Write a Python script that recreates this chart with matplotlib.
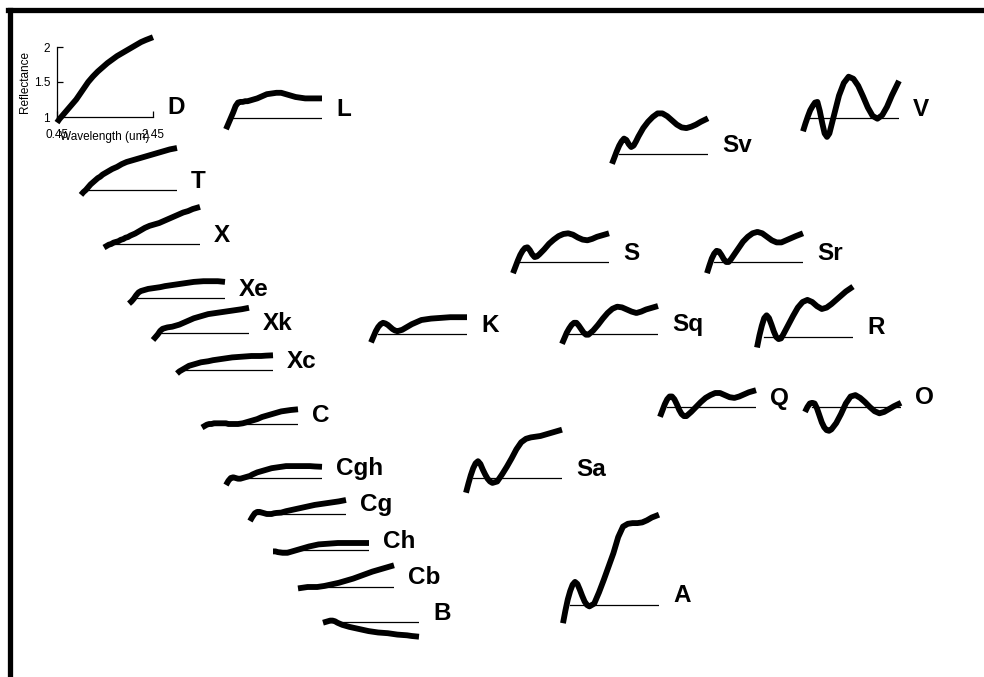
"""
Bus-DeMeo 小行星分类光谱示意图
"""
import matplotlib
matplotlib.use('Agg')
from matplotlib import pyplot as plt
from matplotlib.lines import Line2D

W, H = 984, 677
PXU = 70          # 每单位反射率对应的像素
PW = 96           # 0.45~2.45um 对应的像素宽度
YMIN, YMAX = 0.5, 2.4

WL = [0.45, 0.5, 0.55, 0.6, 0.65, 0.7, 0.75, 0.8, 0.85, 0.9, 0.95, 1.0, 1.1,
      1.2, 1.3, 1.4, 1.5, 1.6, 1.7, 1.8, 1.9, 2.0, 2.1, 2.2, 2.3, 2.45]

D = [0.92, 0.97, 1.01, 1.05, 1.09, 1.13, 1.17, 1.21, 1.25, 1.3, 1.35, 1.4, 1.5,
     1.58, 1.65, 1.71, 1.77, 1.82, 1.87, 1.91, 1.95, 1.99, 2.03, 2.07, 2.1, 2.14]
L = [0.84, 0.92, 1.0, 1.08, 1.17, 1.22, 1.23, 1.23, 1.24, 1.24, 1.25, 1.26, 1.28,
     1.31, 1.34, 1.35, 1.36, 1.36, 1.34, 1.32, 1.3, 1.29, 1.28, 1.28, 1.28, 1.28]
T = [0.93, 0.97, 1.0, 1.04, 1.08, 1.11, 1.14, 1.17, 1.19, 1.22, 1.24, 1.26, 1.3,
     1.33, 1.37, 1.4, 1.42, 1.44, 1.46, 1.48, 1.5, 1.52, 1.54, 1.56, 1.58, 1.6]
X = [0.95, 0.97, 0.99, 1.0, 1.02, 1.03, 1.04, 1.06, 1.07, 1.09, 1.1, 1.12, 1.15,
     1.19, 1.23, 1.26, 1.28, 1.3, 1.33, 1.36, 1.39, 1.42, 1.45, 1.47, 1.5, 1.53]
Xe = [0.92, 0.95, 0.99, 1.04, 1.08, 1.1, 1.11, 1.12, 1.13, 1.135, 1.14, 1.145, 1.155,
      1.17, 1.18, 1.19, 1.2, 1.21, 1.22, 1.23, 1.235, 1.24, 1.24, 1.24, 1.24, 1.23]
Xk = [0.9, 0.94, 0.98, 1.03, 1.06, 1.07, 1.08, 1.085, 1.09, 1.1, 1.11, 1.12, 1.15,
      1.18, 1.21, 1.23, 1.25, 1.27, 1.28, 1.29, 1.3, 1.31, 1.32, 1.33, 1.34, 1.36]
Xc = [0.95, 0.98, 1.0, 1.02, 1.04, 1.06, 1.07, 1.08, 1.09, 1.1, 1.11, 1.115, 1.125,
      1.14, 1.15, 1.16, 1.17, 1.18, 1.185, 1.19, 1.195, 1.2, 1.2, 1.2, 1.205, 1.21]
C = [0.95, 0.97, 0.99, 1.0, 1.0, 1.01, 1.01, 1.01, 1.01, 1.01, 1.01, 1.0, 1.0,
     1.0, 1.01, 1.03, 1.05, 1.07, 1.1, 1.12, 1.14, 1.16, 1.18, 1.19, 1.2, 1.21]
Cgh = [0.9, 0.96, 1.0, 1.01, 1.0, 0.99, 0.99, 1.0, 1.01, 1.02, 1.03, 1.05, 1.08,
       1.1, 1.12, 1.14, 1.15, 1.16, 1.17, 1.17, 1.17, 1.17, 1.17, 1.17, 1.165, 1.16]
Cg = [0.9, 0.96, 1.01, 1.03, 1.03, 1.02, 1.01, 1.0, 1.0, 1.0, 1.01, 1.015, 1.02,
      1.04, 1.055, 1.07, 1.085, 1.1, 1.115, 1.13, 1.14, 1.15, 1.16, 1.17, 1.18, 1.2]
Ch = [0.98, 0.98, 0.97, 0.965, 0.96, 0.96, 0.96, 0.97, 0.98, 0.99, 1.0, 1.01, 1.03,
      1.05, 1.065, 1.08, 1.085, 1.09, 1.095, 1.1, 1.1, 1.1, 1.1, 1.1, 1.1, 1.1]
Cb = [0.98, 0.985, 0.99, 0.995, 1.0, 1.0, 1.0, 1.0, 1.0, 1.005, 1.01, 1.015, 1.03,
      1.045, 1.06, 1.08, 1.1, 1.12, 1.145, 1.17, 1.195, 1.22, 1.24, 1.26, 1.28, 1.31]
B = [0.99, 1.0, 1.01, 1.02, 1.02, 1.01, 0.99, 0.975, 0.96, 0.95, 0.94, 0.93, 0.915,
     0.9, 0.885, 0.87, 0.86, 0.85, 0.845, 0.84, 0.83, 0.82, 0.815, 0.81, 0.8, 0.79]
K = [0.88, 0.96, 1.04, 1.1, 1.14, 1.16, 1.15, 1.13, 1.1, 1.07, 1.05, 1.04, 1.06,
     1.1, 1.14, 1.17, 1.2, 1.21, 1.22, 1.225, 1.23, 1.235, 1.24, 1.24, 1.24, 1.24]
S = [0.84, 0.93, 1.02, 1.1, 1.16, 1.2, 1.21, 1.17, 1.11, 1.07, 1.08, 1.11, 1.18,
     1.26, 1.32, 1.37, 1.4, 1.41, 1.39, 1.35, 1.32, 1.31, 1.33, 1.36, 1.38, 1.41]
Sa = [0.79, 0.92, 1.04, 1.14, 1.21, 1.24, 1.2, 1.12, 1.05, 0.99, 0.95, 0.93, 0.95,
      1.05, 1.16, 1.28, 1.41, 1.51, 1.56, 1.58, 1.59, 1.6, 1.62, 1.64, 1.66, 1.69]
Sq = [0.86, 0.94, 1.02, 1.08, 1.13, 1.16, 1.16, 1.12, 1.07, 1.02, 0.99, 0.99, 1.05,
      1.13, 1.22, 1.3, 1.36, 1.39, 1.38, 1.35, 1.32, 1.3, 1.32, 1.35, 1.37, 1.4]
Sr = [0.84, 0.95, 1.05, 1.12, 1.16, 1.15, 1.1, 1.04, 1.0, 1.0, 1.04, 1.09, 1.19,
      1.29, 1.36, 1.41, 1.43, 1.41, 1.36, 1.31, 1.28, 1.28, 1.31, 1.34, 1.37, 1.41]
Sv = [0.86, 0.95, 1.04, 1.12, 1.18, 1.22, 1.2, 1.14, 1.1, 1.12, 1.18, 1.25, 1.37,
      1.46, 1.53, 1.58, 1.58, 1.54, 1.48, 1.42, 1.38, 1.37, 1.39, 1.42, 1.46, 1.51]
A = [0.74, 0.92, 1.08, 1.2, 1.29, 1.33, 1.3, 1.22, 1.13, 1.05, 1.0, 0.98, 1.02,
     1.18, 1.36, 1.55, 1.74, 1.97, 2.12, 2.16, 2.17, 2.17, 2.18, 2.21, 2.25, 2.29]
Q = [0.86, 0.95, 1.04, 1.11, 1.15, 1.15, 1.11, 1.04, 0.96, 0.9, 0.87, 0.87, 0.93,
     1.0, 1.07, 1.13, 1.17, 1.2, 1.2, 1.17, 1.14, 1.13, 1.15, 1.18, 1.21, 1.24]
O = [0.93, 1.0, 1.05, 1.06, 1.05, 0.98, 0.88, 0.78, 0.71, 0.67, 0.66, 0.68, 0.77,
     0.9, 1.05, 1.15, 1.17, 1.13, 1.07, 1.0, 0.94, 0.91, 0.93, 0.97, 1.01, 1.06]
R = [0.85, 1.02, 1.16, 1.27, 1.31, 1.27, 1.18, 1.08, 1.0, 0.97, 0.98, 1.04, 1.17,
     1.3, 1.42, 1.5, 1.53, 1.5, 1.44, 1.4, 1.42, 1.47, 1.53, 1.59, 1.65, 1.72]
V = [0.81, 0.92, 1.02, 1.11, 1.17, 1.22, 1.23, 1.1, 0.93, 0.78, 0.73, 0.78, 1.05,
     1.32, 1.5, 1.59, 1.56, 1.46, 1.31, 1.15, 1.03, 0.99, 1.04, 1.16, 1.32, 1.53]

NAMES = ['D', 'L', 'Sv', 'V', 'T', 'X', 'S', 'Sr', 'Xe', 'Xk', 'K', 'Sq', 'R', 'Xc',
         'Q', 'O', 'C', 'Cgh', 'Sa', 'Cg', 'Ch', 'Cb', 'A', 'B']
SPECTRA = [D, L, Sv, V, T, X, S, Sr, Xe, Xk, K, Sq, R, Xc,
           Q, O, C, Cgh, Sa, Cg, Ch, Cb, A, B]

# 每个小图的位置（像素）：0.45um 处的 x，反射率 1 处的 y
PANEL_X = [57, 226, 612, 803, 81, 104, 513, 707, 129, 153, 371, 562, 757, 177,
           660, 805, 202, 226, 466, 250, 273, 298, 563, 323]
PANEL_Y = [117, 118, 154, 118, 190, 244, 262, 262, 298, 333, 334, 334, 337, 370,
           407, 407, 424, 478, 478, 514, 550, 587, 605, 622]

LABEL_FONT = ['Liberation Sans', 'DejaVu Sans']


def panel_axes(fig, x0, y0):
    left = x0 / W
    bottom = (H - y0 - (1 - YMIN) * PXU) / H
    ax = fig.add_axes([left, bottom, PW / W, (YMAX - YMIN) * PXU / H])
    ax.set_xlim(0.45, 2.45)
    ax.set_ylim(YMIN, YMAX)
    ax.patch.set_alpha(0)
    return ax


def draw_panel(fig, name, refl, x0, y0, with_axis=False):
    ax = panel_axes(fig, x0, y0)
    ax.plot(WL, refl, color='black', lw=4.2, solid_capstyle='butt',
            solid_joinstyle='round', clip_on=False, zorder=3)
    if with_axis:
        for s in ['top', 'right']:
            ax.spines[s].set_visible(False)
        ax.spines['bottom'].set_position(('data', 1))
        ax.spines['bottom'].set_bounds(0.45, 2.45)
        ax.spines['left'].set_bounds(1, 2)
        ax.spines['left'].set_position(('data', 0.45))
        for s in ['bottom', 'left']:
            ax.spines[s].set_linewidth(0.9)
        ax.set_xticks([0.45, 2.45], ['0.45', '2.45'])
        ax.set_yticks([1, 1.5, 2], ['1', '1.5', '2'])
        ax.tick_params(direction='in', length=4, width=0.9, labelsize=8.5,
                       labelfontfamily='Liberation Sans')
        ax.tick_params(axis='x', pad=9)
        ax.tick_params(axis='y', pad=5)
        ax.set_xlabel('Wavelength (um)', fontsize=8.5, family='Liberation Sans')
        ax.set_ylabel('Reflectance', fontsize=8.5, family='Liberation Sans')
        ax.xaxis.set_label_coords(0.5, (0.8 - YMIN) / (YMAX - YMIN))
        ax.yaxis.set_label_coords(-0.27, (1.5 - YMIN) / (YMAX - YMIN))
    else:
        ax.axis('off')
        ax.plot([0.6, 2.45], [1, 1], color='black', lw=0.9, zorder=2)
    ax.annotate(name, xy=(2.45, 1), xycoords='data', xytext=(14, 9),
                textcoords='offset pixels', ha='left', va='center',
                fontsize=17.5, fontweight='bold', family=LABEL_FONT)


if __name__ == '__main__':
    fig = plt.figure(figsize=(W / 100, H / 100), dpi=100)
    fig.patch.set_facecolor('white')

    # 左上方的粗边框
    fig.add_artist(Line2D([10 / W, 10 / W], [0, 1 - 10 / H], color='black', lw=3.8))
    fig.add_artist(Line2D([8 / W, 1], [1 - 10 / H, 1 - 10 / H], color='black', lw=3.8))

    for i in range(len(NAMES)):
        draw_panel(fig, NAMES[i], SPECTRA[i], PANEL_X[i], PANEL_Y[i],
                   with_axis=(NAMES[i] == 'D'))

    fig.savefig('out.png', dpi=100)
